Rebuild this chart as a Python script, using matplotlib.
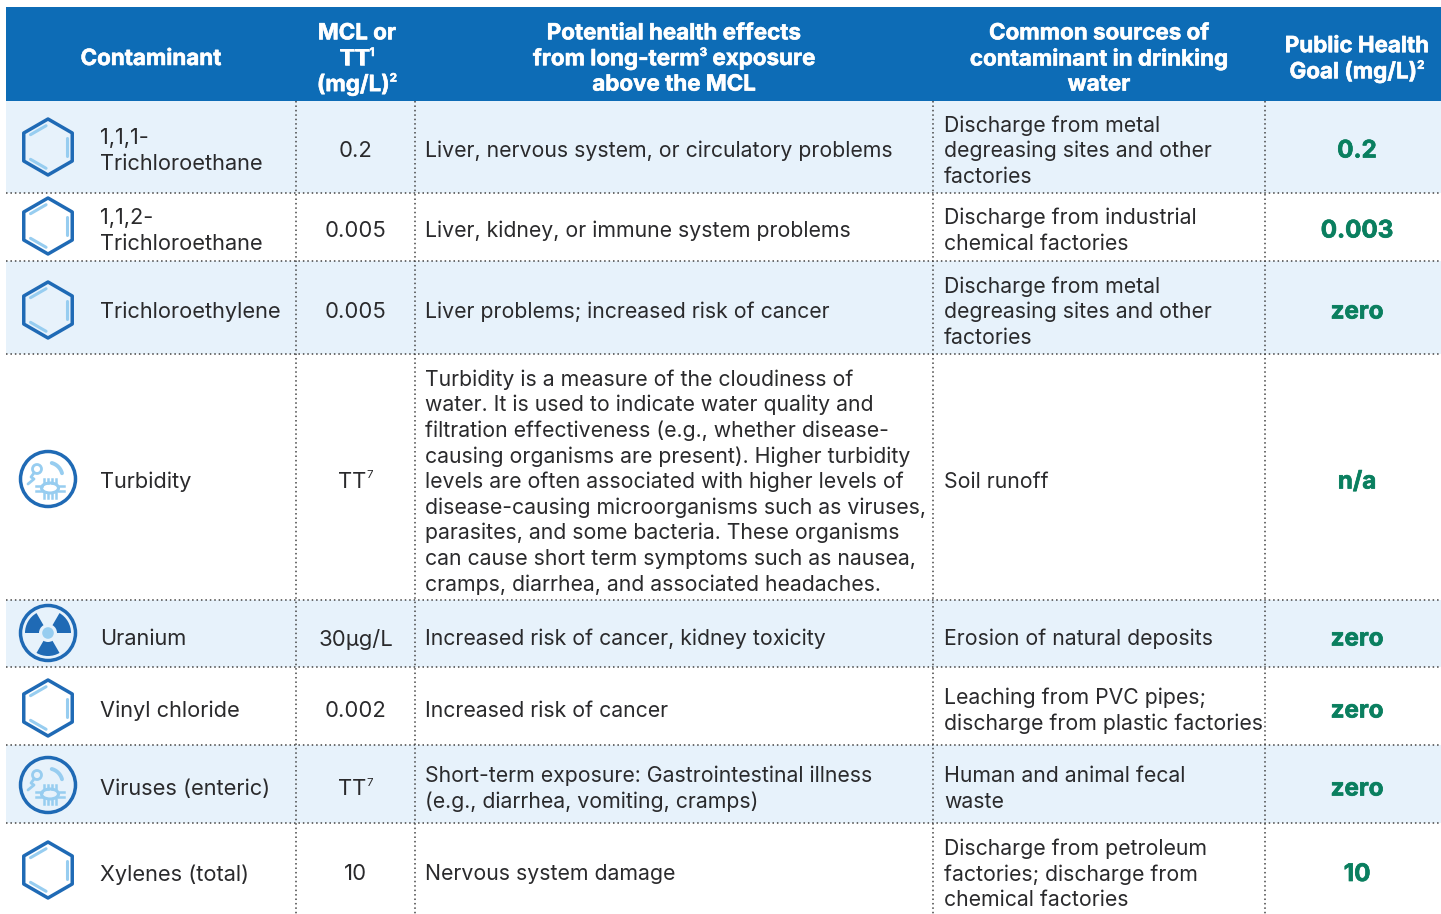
import re

import numpy as np
import matplotlib.pyplot as plt
import matplotlib.patheffects as pe
from matplotlib.patches import Circle, Ellipse, Polygon, Rectangle, Wedge

plt.rcParams['font.family'] = ['Inter', 'DejaVu Sans']

W, H = 1441, 914

# Содержимое таблицы
headers = ["Contaminant", "MCL or\nTT¹\n(mg/L)²",
           "Potential health effects\nfrom long-term³ exposure\nabove the MCL",
           "Common sources of\ncontaminant in drinking\nwater",
           "Public Health\nGoal (mg/L)²"]
contaminants = ["1,1,1-\nTrichloroethane", "1,1,2-\nTrichloroethane", "Trichloroethylene",
                "Turbidity", "Uranium", "Vinyl chloride", "Viruses (enteric)", "Xylenes (total)"]
mcl = ["0.2", "0.005", "0.005", "TT⁷", "30µg/L", "0.002", "TT⁷", "10"]
effects = ["Liver, nervous system, or circulatory problems",
           "Liver, kidney, or immune system problems",
           "Liver problems; increased risk of cancer",
           "Turbidity is a measure of the cloudiness of\nwater. It is used to indicate water quality and\n"
           "filtration effectiveness (e.g., whether disease-\ncausing organisms are present). Higher turbidity\n"
           "levels are often associated with higher levels of\ndisease-causing microorganisms such as viruses,\n"
           "parasites, and some bacteria. These organisms\ncan cause short term symptoms such as nausea,\n"
           "cramps, diarrhea, and associated headaches.",
           "Increased risk of cancer, kidney toxicity",
           "Increased risk of cancer",
           "Short-term exposure: Gastrointestinal illness\n(e.g., diarrhea, vomiting, cramps)",
           "Nervous system damage"]
sources = ["Discharge from metal\ndegreasing sites and other\nfactories",
           "Discharge from industrial\nchemical factories",
           "Discharge from metal\ndegreasing sites and other\nfactories",
           "Soil runoff",
           "Erosion of natural deposits",
           "Leaching from PVC pipes;\ndischarge from plastic factories",
           "Human and animal fecal\nwaste",
           "Discharge from petroleum\nfactories; discharge from\nchemical factories"]
goals = ["0.2", "0.003", "zero", "n/a", "zero", "zero", "zero", "10"]
icons = ["hex", "hex", "hex", "bug", "rad", "hex", "bug", "hex"]

# Геометрия в пикселях
row_edges = [101, 193, 261, 354, 600, 667, 745, 823, 914]
col_edges = [6, 296, 415, 933, 1265, 1441]
icon_y = [147, 226, 310, 479, 633, 708, 785, 870]
text_y = [149, 229, 310, 480, 637, 709, 787, 872.5]
head_x = [151, 357, 674, 1099, 1357]
header_top = 7
line_h = 25.6

BLUE = '#0d6cb6'
PALE = '#e7f2fb'
DARK = '#2a2a2c'
GREEN = '#0a7f5f'
ICON = '#1f6ab5'
LIGHT = '#97cdf0'
SUP = {'¹': '1', '²': '2', '³': '3', '⁷': '7'}
DOTS = dict(color='#444444', lw=1.1, ls=(0, (1, 1.9)), zorder=2)

fig = plt.figure(figsize=(W / 100, H / 100), dpi=100)
ax = fig.add_axes([0, 0, 1, 1])
ax.set_xlim(0, W)
ax.set_ylim(H, 0)
ax.axis('off')


def put_sup_line(x, y, line, fontsize, **kw):
    # Строка с верхним индексом: куски ставятся друг за другом, мелкая цифра выше
    parts = [p for p in re.split('([¹²³⁷])', line) if p]
    renderer = fig.canvas.get_renderer()
    items = []
    for p in parts:
        is_sup = p in SUP
        t = ax.text(0, y - (5.5 if is_sup else 0), SUP.get(p, p), ha='left', va='center_baseline',
                    fontsize=fontsize * (0.52 if is_sup else 1), **kw)
        items.append((t, t.get_window_extent(renderer).width))
    cur = x - sum(w for _, w in items) / 2
    for t, w in items:
        t.set_x(cur)
        cur += w


def put_lines(x, yc, s, ha='left', fontsize=15.3, **kw):
    # Каждая строка ставится отдельно, чтобы выдержать шаг как в оригинале
    lines = s.split('\n')
    y0 = yc - line_h * (len(lines) - 1) / 2
    for i, ln in enumerate(lines):
        y = y0 + i * line_h
        if ha == 'center' and re.search('[¹²³⁷]', ln):
            put_sup_line(x, y, ln, fontsize, **kw)
        else:
            ax.text(x, y, ln, ha=ha, va='center_baseline', fontsize=fontsize, **kw)


def hex_icon(cx, cy):
    ang = np.radians(np.arange(6) * 60 + 30)
    r = 28
    px = cx + r * np.cos(ang)
    py = cy + r * np.sin(ang)
    ax.add_patch(Polygon(np.c_[px, py], closed=True, fc='none', ec=ICON, lw=2.5, joinstyle='round', zorder=3))
    # внутренние светлые штрихи
    for a, b in [(5, 0), (3, 4), (1, 2)]:
        sx, sy = cx + 0.8 * r * np.cos(ang[a]), cy + 0.8 * r * np.sin(ang[a])
        ex, ey = cx + 0.8 * r * np.cos(ang[b]), cy + 0.8 * r * np.sin(ang[b])
        mx, my = (sx + ex) / 2, (sy + ey) / 2
        ax.plot([mx + (sx - mx) * 0.8, mx + (ex - mx) * 0.8], [my + (sy - my) * 0.8, my + (ey - my) * 0.8],
                color=LIGHT, lw=2.2, solid_capstyle='round', zorder=3)


def bug_icon(cx, cy):
    ax.add_patch(Circle((cx, cy), 27.5, fc='none', ec=ICON, lw=2.5, zorder=3))
    # вирус слева сверху
    ax.add_patch(Circle((cx - 11, cy - 10), 4.5, fc='none', ec=LIGHT, lw=2, zorder=3))
    ax.plot([cx - 14, cx - 17, cx - 14, cx - 20], [cy - 6, cy - 2, cy + 0, cy + 5],
            color=LIGHT, lw=2, solid_capstyle='round', zorder=3)
    # дуга справа сверху
    t = np.radians(np.linspace(-75, -15, 20))
    ax.plot(cx + 14.5 * np.cos(t), cy - 2 + 14.5 * np.sin(t), color=LIGHT, lw=2.8, solid_capstyle='round', zorder=3)
    # бактерия
    bx, by = cx + 2, cy + 9
    ax.add_patch(Ellipse((bx, by), 17, 10, fc='none', ec=LIGHT, lw=2.2, zorder=3))
    for dx in (-6, -2, 2, 6):
        ax.plot([bx + dx, bx + dx], [by - 9.5, by - 5], color=LIGHT, lw=1.8, zorder=3)
        ax.plot([bx + dx, bx + dx], [by + 5, by + 9.5], color=LIGHT, lw=1.8, zorder=3)
    for off in (-2.5, 2.5):
        ax.plot([bx - 14, bx - 8], [by + off, by + off], color=LIGHT, lw=1.8, zorder=3)
        ax.plot([bx + 8, bx + 14], [by + off, by + off], color=LIGHT, lw=1.8, zorder=3)


def rad_icon(cx, cy):
    ax.add_patch(Circle((cx, cy), 27.5, fc='none', ec=ICON, lw=2.5, zorder=3))
    for a in (-150, -30, 90):
        ax.add_patch(Wedge((cx, cy), 23, a - 30, a + 30, width=14, fc=ICON, ec='none', zorder=3))
    ax.add_patch(Circle((cx, cy), 5.8, fc=LIGHT, ec='none', zorder=3))


draw_icon = {'hex': hex_icon, 'bug': bug_icon, 'rad': rad_icon}
head_fx = [pe.withStroke(linewidth=0.4, foreground='white')]
goal_fx = [pe.withStroke(linewidth=0.5, foreground=GREEN)]

# Шапка
ax.add_patch(Rectangle((col_edges[0], header_top), col_edges[-1] - col_edges[0], row_edges[0] - header_top,
                       fc=BLUE, ec='none'))
for x, s in zip(head_x, headers):
    put_lines(x, 57, s, ha='center', fontsize=16.1, fontweight='bold', color='white', path_effects=head_fx)

# Строки
for i in range(len(contaminants)):
    top, bot = row_edges[i], row_edges[i + 1]
    yc = text_y[i]
    if i % 2 == 0:
        ax.add_patch(Rectangle((col_edges[0], top), col_edges[-1] - col_edges[0], bot - top, fc=PALE, ec='none'))
    if i < len(contaminants) - 1:
        ax.plot([col_edges[0], col_edges[-1]], [bot, bot], **DOTS)
    put_lines(100, yc, contaminants[i], fontsize=15.7, color=DARK)
    put_lines(355.5, yc, mcl[i], ha='center', fontsize=15.9, color=DARK)
    put_lines(425, yc, effects[i], color=DARK)
    put_lines(944, yc, sources[i], color=DARK)
    put_lines(1357, yc, goals[i], ha='center', fontsize=17.4, fontweight='bold', color=GREEN, path_effects=goal_fx)
    draw_icon[icons[i]](48, icon_y[i])

for x in col_edges[1:-1]:
    ax.plot([x, x], [row_edges[0], row_edges[-1]], **DOTS)

fig.savefig('out.png', dpi=100)
